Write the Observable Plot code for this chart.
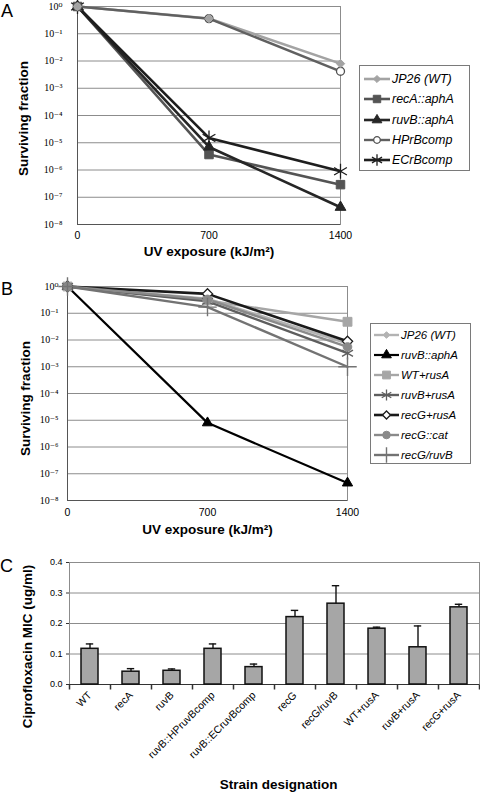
<!DOCTYPE html>
<html><head><meta charset="utf-8">
<script src="https://cdn.jsdelivr.net/npm/d3@7"></script>
<script src="https://cdn.jsdelivr.net/npm/@observablehq/plot@0.6"></script>
<style>
body{margin:0;background:#fff;}
#root{position:relative;width:480px;height:796px;overflow:hidden;font-family:"Liberation Sans",Arial,sans-serif;color:#000;}
.panel{position:absolute;left:0;}
.plabel{position:absolute;font-size:18px;line-height:18px;}
.legend{position:absolute;border:1px solid #7a7a7a;background:#fff;box-sizing:border-box;}
.legend .row{display:flex;align-items:center;font-style:italic;white-space:nowrap;}
.legend svg{display:block;flex:none;}
</style></head><body><div id="root"></div>
<script>
// ---------- data ----------
const doses = [0, 700, 1400];
const decadeTicks = [1, 1e-1, 1e-2, 1e-3, 1e-4, 1e-5, 1e-6, 1e-7, 1e-8];

// Panel A (surviving fraction at 0, 700, 1400 kJ/m2)
const namesA = ["JP26 (WT)", "recA::aphA", "ruvB::aphA", "HPrBcomp", "ECrBcomp"];
const jp26A    = [1, 0.36, 8.0e-3];
const recA_A   = [1, 3.7e-6, 2.9e-7];
const ruvB_A   = [1, 7.0e-6, 4.3e-8];
const hpComp_A = [1, 0.36, 4.2e-3];
const ecComp_A = [1, 1.5e-5, 9.0e-7];

// Panel B
const namesB = ["JP26 (WT)", "ruvB::aphA", "WT+rusA", "ruvB+rusA", "recG+rusA", "recG::cat", "recG/ruvB"];
const jp26B      = [1, 0.35, 7.4e-3];
const ruvB_B     = [1, 8.0e-6, 4.5e-8];
const wtRusA_B   = [1, 0.30, 4.8e-2];
const ruvBRusA_B = [1, 0.28, 3.2e-3];
const recGRusA_B = [1, 0.53, 8.9e-3];
const recGcat_B  = [1, 0.33, 5.5e-3];
const recGruvB_B = [1, 0.17, 1.0e-3];

// Panel C
const strains = ["WT", "recA", "ruvB", "ruvB::HPruvBcomp", "ruvB::ECruvBcomp", "recG", "recG/ruvB", "WT+rusA", "ruvB+rusA", "recG+rusA"];
const mic    = [0.117, 0.042, 0.045, 0.117, 0.057, 0.221, 0.265, 0.183, 0.122, 0.253];
const micErr = [0.016, 0.010, 0.006, 0.016, 0.010, 0.022, 0.059, 0.005, 0.070, 0.010];
const micTicks = [0, 0.1, 0.2, 0.3, 0.4];

// ---------- styles ----------
const stylesA = [
  {stroke:"#a3a3a3", lw:2.6, symbol:"diamond2", r:3.8, lr:3.2, fill:"#a3a3a3", ms:"#a3a3a3", msw:1},
  {stroke:"#545454", lw:2.6, symbol:"square", r:4.8, lr:4.2, fill:"#545454", ms:"#545454", msw:1},
  {stroke:"#262626", lw:2.6, symbol:"triangle", r:4.0, lr:3.6, fill:"#262626", ms:"#262626", msw:1},
  {stroke:"#606060", lw:2.4, symbol:"circle", r:4, lr:3.3, fill:"#ffffff", ms:"#505050", msw:1.3},
  {stroke:"#1e1e1e", lw:2.6, symbol:"asterisk", r:7, lr:5.5, fill:"none", ms:"#1e1e1e", msw:1.3}
];
const stylesB = [
  {stroke:"#b3b3b3", lw:2.4, symbol:"diamond2", r:3.4, lr:3, fill:"#b3b3b3", ms:"#b3b3b3", msw:1},
  {stroke:"#000000", lw:2.2, symbol:"triangle", r:3.8, lr:3.6, fill:"#000000", ms:"#000000", msw:1},
  {stroke:"#a6a6a6", lw:2.4, symbol:"square", r:5, lr:4.4, fill:"#a6a6a6", ms:"#a6a6a6", msw:1},
  {stroke:"#5e5e5e", lw:2.4, symbol:"asterisk", r:6, lr:5.2, fill:"none", ms:"#5e5e5e", msw:1.3},
  {stroke:"#1a1a1a", lw:2.6, symbol:"diamond2", r:4.6, lr:3.6, fill:"#ffffff", ms:"#1a1a1a", msw:1.3},
  {stroke:"#8a8a8a", lw:2.4, symbol:"circle", r:4.3, lr:3.8, fill:"#8a8a8a", ms:"#8a8a8a", msw:1},
  {stroke:"#737373", lw:2.4, symbol:"plus", r:6, lr:5, fill:"none", ms:"#737373", msw:1.4}
];

const SANS = "Liberation Sans, Arial, sans-serif";
const SERIF = "Liberation Serif, DejaVu Serif, Times New Roman, serif";
const supMap = {"0":"⁰","1":"¹","2":"²","3":"³","4":"⁴","5":"⁵","6":"⁶","7":"⁷","8":"⁸","9":"⁹","-":"⁻"};
const supFmt = d => "10" + String(Math.round(Math.log10(d))).split("").map(c => supMap[c]).join("");
const symMap = {diamond2:d3.symbolDiamond2, square:d3.symbolSquare, triangle:d3.symbolTriangle, circle:d3.symbolCircle, asterisk:d3.symbolAsterisk, plus:d3.symbolPlus};

const root = document.getElementById("root");

function survivalPanel(opt) {
  const rows = opt.series.map((vals, k) => doses.map((d, i) => ({dose:d, s:vals[i], k})));
  const marks = [
    Plot.ruleY(decadeTicks, {stroke:"#8c8c8c", strokeWidth:1}),
    Plot.frame({stroke:"#8c8c8c"}),
    Plot.ruleX([0], {stroke:"#555"}),
    Plot.ruleY([1e-8], {stroke:"#555"}),
    Plot.axisY({ticks:decadeTicks, tickFormat:supFmt, tickSize:0, tickPadding:opt.yPad, fontFamily:SERIF, fontSize:10, label:null}),
    Plot.axisX({ticks:doses, tickFormat:d=>String(d), tickSize:0, tickPadding:opt.xPad, fontSize:10.5, fontFamily:SANS, label:null}),
  ];
  rows.forEach((r, k) => {
    const st = opt.styles[k];
    marks.push(Plot.line(r, {x:"dose", y:"s", stroke:st.stroke, strokeWidth:st.lw}));
  });
  opt.dotOrder.forEach(k => {
    const st = opt.styles[k];
    marks.push(Plot.dot(rows[k], {x:"dose", y:"s", symbol:st.symbol, r:st.r, fill:st.fill, stroke:st.ms, strokeWidth:st.msw}));
  });
  marks.push(Plot.text(["UV exposure (kJ/m²)"], {text:d=>d, frameAnchor:"bottom", dy:opt.xTitleDy, fontWeight:"bold", fontSize:13.5, fontFamily:SANS}));
  marks.push(Plot.text(["Surviving fraction"], {text:d=>d, frameAnchor:"left", textAnchor:"middle", rotate:-90, dx:opt.yTitleDx, dy:opt.yTitleDy, fontWeight:"bold", fontSize:13.5, fontFamily:SANS}));
  const p = Plot.plot({
    width:480, height:opt.height,
    marginLeft:opt.ml, marginRight:opt.mr, marginTop:opt.mt, marginBottom:opt.mb,
    x:{domain:[0,1400]},
    y:{type:"log", domain:[1e-8,1]},
    style:{fontFamily:SANS, fontSize:"10px", overflow:"visible", background:"transparent"},
    marks
  });
  p.classList.add("panel");
  p.style.top = opt.top + "px";
  root.appendChild(p);
}

function legend(names, styles, o) {
  const div = document.createElement("div");
  div.className = "legend";
  Object.assign(div.style, {left:o.left+"px", top:o.top+"px", width:o.width+"px", height:o.height+"px", paddingTop:o.pt+"px", paddingLeft:o.pl+"px", fontSize:o.fs+"px"});
  names.forEach((n, k) => {
    const st = styles[k];
    const r = st.lr;
    const path = d3.symbol(symMap[st.symbol], Math.PI * r * r)();
    const row = document.createElement("div");
    row.className = "row";
    row.style.height = o.rh + "px";
    row.innerHTML = `<svg width="${o.sw}" height="16"><line x1="0" x2="${o.sw}" y1="8" y2="8" stroke="${st.stroke}" stroke-width="${st.lw}"/><path transform="translate(${o.sw/2},8)" d="${path}" fill="${st.fill}" stroke="${st.ms}" stroke-width="${st.msw}"/></svg><span style="margin-left:2px">${n}</span>`;
    div.appendChild(row);
  });
  root.appendChild(div);
}

function label(t, left, top) {
  const d = document.createElement("div");
  d.className = "plabel";
  d.textContent = t;
  d.style.left = left + "px";
  d.style.top = top + "px";
  root.appendChild(d);
}

// Panel A
survivalPanel({
  series:[jp26A, recA_A, ruvB_A, hpComp_A, ecComp_A], styles:stylesA, dotOrder:[1,2,4,3,0],
  top:0, height:262, ml:77, mr:140, mt:6, mb:38,
  yPad:15, xPad:7, xTitleDy:31, yTitleDx:-54, yTitleDy:3
});
legend(namesA, stylesA, {left:359, top:65, width:111, height:106, pt:3, pl:4, fs:12.5, rh:20.3, sw:26});
label("A", 1, 2);

// Panel B
survivalPanel({
  series:[jp26B, ruvB_B, wtRusA_B, ruvBRusA_B, recGRusA_B, recGcat_B, recGruvB_B], styles:stylesB, dotOrder:[0,1,2,3,4,5,6],
  top:280, height:262, ml:67, mr:133, mt:6, mb:42,
  yPad:9, xPad:8, xTitleDy:33, yTitleDx:-42, yTitleDy:5
});
legend(namesB, stylesB, {left:370, top:323, width:101, height:141, pt:1, pl:3, fs:11.5, rh:20, sw:25});
label("B", 1, 280);

// Panel C
(function(){
  const data = strains.map((s, i) => ({strain:s, mic:mic[i], err:micErr[i]}));
  const ml = 69, mr = 1;
  const step = (480 - ml - mr) / strains.length;
  const tickSym = {draw(ctx){ ctx.moveTo(0,0); ctx.lineTo(0,5); }};
  const p = Plot.plot({
    width:480, height:251, marginLeft:ml, marginRight:mr, marginTop:17, marginBottom:112,
    x:{domain:strains, paddingInner:0.59, paddingOuter:0.295},
    y:{domain:[0,0.4]},
    style:{fontFamily:SANS, fontSize:"10px", overflow:"visible", background:"transparent"},
    marks:[
      Plot.ruleY(micTicks, {stroke:"#8c8c8c"}),
      Plot.frame({stroke:"#8c8c8c"}),
      Plot.axisY({ticks:micTicks, tickFormat:d3.format(".1f"), tickSize:3, tickPadding:4, fontSize:9, fontFamily:SANS, label:null, stroke:"#333"}),
      Plot.axisX({tickSize:0, tickPadding:9, tickRotate:-45, fontSize:10.5, fontFamily:SANS, label:null}),
      Plot.ruleY([0], {stroke:"#333", strokeWidth:1.2}),
      Plot.dot(strains, {x:d=>d, y:()=>0, dx:-step/2, symbol:tickSym, stroke:"#333", fill:"none"}),
      Plot.dot(strains.slice(-1), {x:d=>d, y:()=>0, dx:step/2, symbol:tickSym, stroke:"#333", fill:"none"}),
      Plot.barY(data, {x:"strain", y:"mic", fill:"#a6a6a6", stroke:"#111", strokeWidth:1.5}),
      Plot.ruleX(data, {x:"strain", y1:"mic", y2:d=>d.mic+d.err, stroke:"#111", strokeWidth:1.4}),
      Plot.tickY(data, {x:"strain", y:d=>d.mic+d.err, stroke:"#111", strokeWidth:1.4, insetLeft:4.8, insetRight:4.8}),
      Plot.text(["Strain designation"], {text:d=>d, frameAnchor:"bottom", dy:104, dx:4, fontWeight:"bold", fontSize:13.5, fontFamily:SANS}),
      Plot.text(["Ciprofloxacin MIC (ug/ml)"], {text:d=>d, frameAnchor:"left", textAnchor:"middle", rotate:-90, dx:-42, dy:23, fontWeight:"bold", fontSize:13.5, fontFamily:SANS})
    ]
  });
  p.classList.add("panel");
  p.style.top = "545px";
  root.appendChild(p);
})();
label("C", 0, 557);
</script></body></html>
